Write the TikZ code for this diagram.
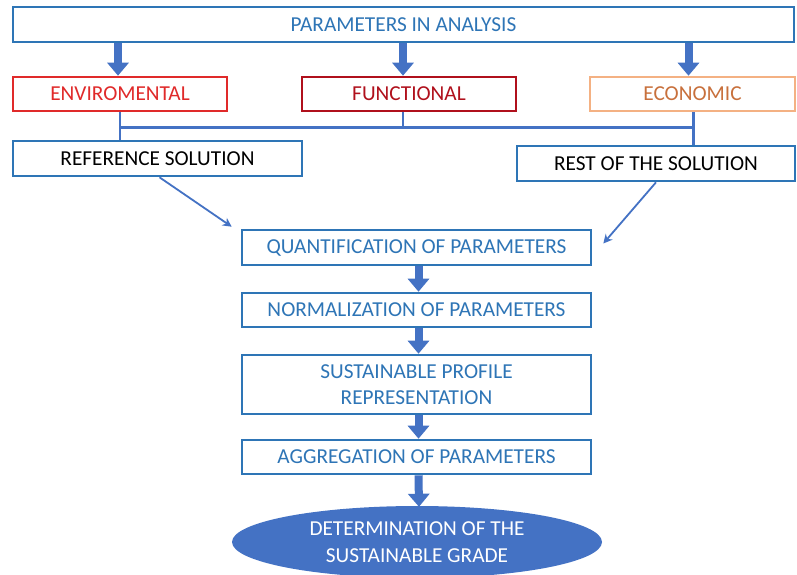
\documentclass[tikz,border=0pt]{standalone}
\usepackage{fontspec}
\setmainfont{Carlito}
\usetikzlibrary{arrows.meta,shapes.geometric}
\definecolor{bord}{HTML}{2E75B6}
\definecolor{txtblue}{HTML}{2E75B6}
\definecolor{arrfill}{HTML}{4472C4}
\definecolor{envred}{HTML}{E02A2A}
\definecolor{funcred}{HTML}{B0101C}
\definecolor{econbord}{HTML}{F4B183}
\definecolor{econtxt}{HTML}{C8703C}
\tikzset{
  box/.style={draw=bord, line width=2.6pt, fill=white, inner sep=0pt, align=center,
    font=\fontsize{21.3}{25.5}\selectfont, text=txtblue},
  bigarrow/.style={draw=arrfill, line width=8pt, -{Triangle[width=21pt,length=13pt]}},
  thinarrow/.style={draw=arrfill, line width=1.8pt, -{Stealth[width=9pt,length=9pt]}},
  conn/.style={draw=arrfill, line width=2.2pt},
}
\begin{document}
\begin{tikzpicture}[x=1pt,y=-1pt]
\clip (0,0) rectangle (797,574);
\fill[white] (0,0) rectangle (797,574);
\node[box, minimum width=781, minimum height=35] (top) at (403.5,24.5) {PARAMETERS IN ANALYSIS};
\node[box, draw=envred, text=envred, minimum width=214, minimum height=34] (env) at (120,94) {ENVIROMENTAL};
\node[box, draw=funcred, text=funcred, minimum width=214, minimum height=34] (func) at (409,94) {FUNCTIONAL};
\node[box, draw=econbord, text=econtxt, minimum width=205, minimum height=34] (econ) at (692.5,94) {ECONOMIC};
\node[box, text=black, minimum width=289, minimum height=35] (ref) at (157.5,158.5) {REFERENCE SOLUTION};
\node[box, text=black, minimum width=278, minimum height=35] (rest) at (656,163.5) {REST OF THE SOLUTION};
\node[box, minimum width=349, minimum height=35] (quant) at (416.5,247.5) {QUANTIFICATION OF PARAMETERS};
\node[box, minimum width=349, minimum height=34] (norm) at (416.5,310) {NORMALIZATION OF PARAMETERS};
\node[box, minimum width=349, minimum height=59] (prof) at (416.5,384.5) {SUSTAINABLE PROFILE\\REPRESENTATION};
\node[box, minimum width=349, minimum height=34] (aggr) at (416.5,457) {AGGREGATION OF PARAMETERS};
\node[ellipse, fill=arrfill, text=white, inner sep=0pt, minimum width=370, minimum height=72,
  align=center, font=\fontsize{21.3}{27}\selectfont] (grade) at (417,542) {DETERMINATION OF THE\\SUSTAINABLE GRADE};

% thick arrows from top
\draw[bigarrow] ([xshift=-2pt]env.north |- top.south) -- ([xshift=-2pt]env.north);
\draw[bigarrow] ([xshift=-6pt]func.north |- top.south) -- ([xshift=-6pt]func.north);
\draw[bigarrow] ([xshift=-4pt]econ.north |- top.south) -- ([xshift=-4pt]econ.north);

% connector lines
\coordinate (hl) at (0,127.5);
\draw[conn] (env.south) -- (env.south |- ref.north);
\draw[conn] (env.south |- hl) -- ([xshift=1pt]econ.south |- hl);
\draw[conn] ([xshift=-6pt]func.south) -- ([xshift=-6pt]func.south |- hl);
\draw[conn] ([xshift=1pt]econ.south) -- ([xshift=1pt]econ.south |- rest.north);

% thin arrows
\draw[thinarrow] ([xshift=2pt]ref.south) -- ([xshift=-9pt,yshift=2pt]quant.north west);
\draw[thinarrow] (rest.south) -- ([xshift=11pt,yshift=4pt]quant.east);

% thick arrows in stack
\draw[bigarrow] ([xshift=2pt]quant.south) -- ([xshift=2pt]norm.north);
\draw[bigarrow] ([xshift=2pt]norm.south) -- ([xshift=2pt]prof.north);
\draw[bigarrow] ([xshift=2pt]prof.south) -- ([xshift=2pt]aggr.north);
\draw[bigarrow] ([xshift=2pt]aggr.south) -- ([xshift=2pt,yshift=-1pt]grade.north);
\end{tikzpicture}
\end{document}
